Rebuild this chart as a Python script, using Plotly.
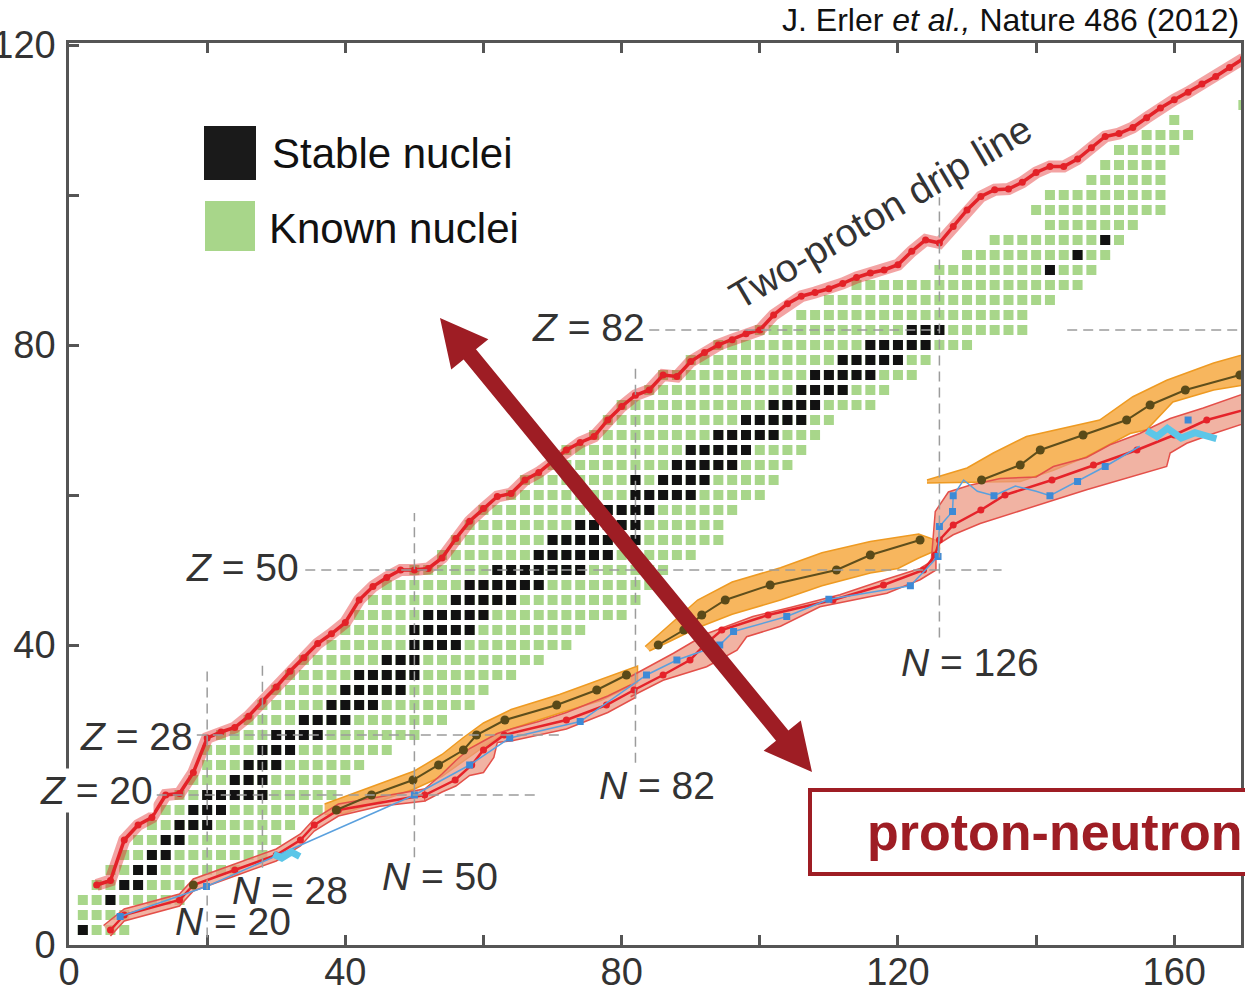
import plotly.graph_objects as go
import numpy as np

# ---------------- data ----------------
# Known even-even nuclei: for each even Z, first and last even N
known_Z    = [2, 4, 6, 8, 10, 12, 14, 16, 18, 20, 22, 24, 26, 28, 30, 32, 34, 36, 38, 40, 42, 44, 46, 48, 50,
              52, 54, 56, 58, 60, 62, 64, 66, 68, 70, 72, 74, 76, 78, 80, 82, 84, 86, 88, 90, 92, 94, 96, 98,
              100, 102, 104, 106, 108, 110, 112]
known_Nmin = [2, 2, 2, 4, 6, 8, 10, 12, 14, 16, 18, 20, 20, 22, 26, 28, 30, 32, 34, 38, 40, 42, 44, 46, 50,
              54, 56, 58, 60, 64, 66, 70, 72, 76, 78, 80, 84, 86, 90, 94, 100, 106, 110, 114, 126, 130, 134, 142, 140,
              142, 148, 150, 152, 156, 160, 170]
known_Nmax = [8, 8, 16, 16, 24, 28, 30, 32, 36, 38, 40, 42, 46, 50, 54, 58, 60, 64, 68, 72, 74, 80, 82, 84, 86,
              90, 94, 94, 96, 100, 102, 104, 106, 108, 110, 116, 118, 122, 124, 130, 138, 138, 142, 146, 148, 150, 152, 154, 158,
              158, 158, 158, 160, 162, 160, 170]

# Stable even-even nuclei (rows of Z with their N values)
stable_Z_rows = [2, 6, 8, 10, 12, 14, 16, 18, 20, 22, 24, 26, 28, 30, 32, 34, 36, 38, 40, 42, 44, 46, 48, 50,
                 52, 54, 56, 58, 60, 62, 64, 66, 68, 70, 72, 74, 76, 78, 80, 82, 90, 92, 94]
stable_N_rows = [[2], [6], [8, 10], [10, 12], [12, 14], [14, 16], [16, 18, 20], [18, 20, 22],
                 [20, 22, 24, 26, 28], [24, 26, 28], [26, 28, 30], [28, 30, 32], [30, 32, 34, 36],
                 [34, 36, 38, 40], [38, 40, 42, 44], [40, 42, 44, 46, 48], [42, 44, 46, 48, 50], [46, 48, 50],
                 [50, 52, 54, 56], [50, 52, 54, 56, 58], [52, 54, 56, 58, 60], [56, 58, 60, 62, 64],
                 [58, 60, 62, 64, 66, 68], [62, 64, 66, 68, 70, 72, 74], [68, 70, 72, 74, 76, 78],
                 [70, 72, 74, 76, 78, 80, 82], [74, 76, 78, 80, 82], [78, 80, 82, 84], [82, 84, 86, 88, 90],
                 [82, 86, 88, 90, 92], [88, 90, 92, 94, 96], [90, 92, 94, 96, 98], [94, 96, 98, 100, 102],
                 [98, 100, 102, 104, 106], [102, 104, 106, 108], [106, 108, 110, 112], [108, 110, 112, 114, 116],
                 [112, 114, 116, 118, 120], [116, 118, 120, 122, 124], [122, 124, 126], [142], [146], [150]]

# Two-proton drip line
drip2p_N = [4, 6, 8, 10, 12, 14, 16, 18, 20, 22, 24, 26, 28, 30, 32, 34, 36, 38, 40, 42, 44, 46, 48, 50, 52, 54,
            56, 58, 60, 62, 64, 66, 68, 70, 72, 74, 76, 78, 80, 82, 84, 86, 88, 90, 92, 94, 96, 98, 100, 102, 104,
            106, 108, 110, 112, 114, 116, 118, 120, 122, 124, 126, 128, 130, 132, 134, 136, 138, 140, 142, 144,
            146, 148, 150, 152, 154, 156, 158, 160, 162, 164, 166, 168, 170]
drip2p_Z = [8, 8.6, 14, 16, 17, 20, 20.2, 23, 27.6, 28.4, 29, 30.5, 32.5, 34.4, 36.5, 38.3, 40.2, 41.5, 43, 46,
            47.8, 49, 50, 50, 50.2, 51.6, 54.2, 56.5, 58.2, 59.8, 60.2, 62, 63, 64.5, 66, 67, 67.8, 70, 71.8, 73.3,
            74, 76, 75.8, 77.8, 79, 80, 80.7, 81.5, 82, 84, 85.5, 86.5, 87, 87.5, 88.2, 89, 89.6, 90, 90.7, 92.5,
            94, 93.6, 95.8, 98, 99.8, 100.7, 100.8, 101.7, 103, 103.8, 103.8, 104.8, 106.3, 107.8, 108.2, 109,
            110.3, 111.6, 112.7, 113.7, 114.8, 115.8, 117, 118.2]

# Two-neutron drip line (mean, red)
drip2n_N = [6, 8, 16, 18, 24, 30, 33.5, 35.5, 39, 51.5, 55.9, 58.3, 60, 63, 72, 77.8, 81.8, 86, 89.9, 92, 94.5,
            101.2, 110.6, 117.9, 123.7, 125.4, 126, 128, 132, 135.5, 142.3, 148.3, 154.6, 160, 164.7, 172.8]
drip2n_Z = [2, 4, 6, 8, 10, 12, 14, 16, 18, 20, 22, 24, 26, 28, 30, 32, 34, 36, 38, 40, 42, 44, 46, 48, 50, 52,
            54, 56, 58, 60, 62, 64, 66, 68, 70, 72]

# Uncertainty band of the two-neutron drip line (salmon), upper / lower edges
salmon1_up_N = [5, 8, 16, 18, 24, 30, 33.5, 35.5, 39, 45, 51.5]
salmon1_up_Z = [2.6, 4.8, 6.8, 8.8, 10.8, 12.8, 14.8, 16.8, 18.8, 19.8, 20.8]
salmon1_lo_N = [51.5, 45, 39, 35.5, 33.5, 30, 24, 18, 16, 8, 6]
salmon1_lo_Z = [19.2, 18.5, 17.2, 15.2, 13.2, 11.2, 9.2, 7.2, 5.2, 3.2, 1.2]
salmon2_up_N = [51.5, 54, 56, 58, 60, 62, 64, 68, 72, 78, 82]
salmon2_up_Z = [20.8, 22.8, 24.6, 26.2, 27.2, 28.2, 28.8, 29.8, 31, 33.2, 35]
salmon2_lo_N = [82, 78, 72, 64, 62, 61.5, 60, 58, 56, 54, 51.5]
salmon2_lo_Z = [33, 31, 28.8, 27.2, 27, 25, 23, 22.6, 21.2, 20.4, 19.2]
salmon3_up_N = [81.3, 87.5, 92.3, 99, 104.4, 111.6, 118.4, 123.2, 125.5]
salmon3_up_Z = [35.8, 38.9, 41.5, 43.8, 45, 46.7, 48.8, 50.2, 51.5]
salmon3_lo_N = [125.5, 123.2, 118.4, 108.7, 103, 98.1, 96.7, 92.3, 86, 81.3]
salmon3_lo_Z = [50, 48.7, 46.9, 45.1, 42.5, 41.1, 39.3, 37.1, 35.3, 33.1]
salmon4_up_N = [124.8, 125.4, 127.3, 130.4, 134.8, 140, 142.5, 147.3, 150.7, 155, 156.9, 159.4, 164.2, 171]
salmon4_up_Z = [51, 57.8, 60.4, 61.3, 62.2, 62.4, 63.8, 65, 66.7, 68.2, 69.1, 70.2, 71.6, 73.8]
salmon4_lo_N = [171, 165.7, 161.8, 159.4, 158.9, 152.1, 147.3, 142.5, 135.7, 131.9, 128, 126.1, 125.1, 124.8]
salmon4_lo_Z = [69.8, 68.2, 66.9, 65.6, 63.8, 62, 60.7, 59.3, 57.3, 56.2, 54.7, 53.6, 51.8, 51]

# Second model set (olive line with orange band), three pieces
olive_A_N = [38.7, 43.8, 49.8, 53.5, 57.1, 59, 63.1, 70.6, 76.4, 80.7]
olive_A_Z = [18, 20, 22, 24, 26, 28, 30, 32, 34, 36]
olive_B_N = [85.3, 89, 91.6, 95, 101.5, 111.1, 116, 123.2]
olive_B_Z = [40, 42, 44, 46, 48, 50, 52, 54]
olive_C_N = [132.1, 137.7, 140.6, 146.8, 153.1, 156.5, 161.6, 169.5]
olive_C_Z = [62, 64, 66, 68, 70, 72, 74, 76]
olive_single_N = [18]
olive_single_Z = [8]

orangeA_up_N = [37, 40, 44, 50, 54, 57, 60, 64, 71, 77, 82.3]
orangeA_up_Z = [18.8, 19.8, 21.2, 23.2, 25.4, 27.6, 29.6, 31.4, 33.4, 35.4, 37.2]
orangeA_lo_N = [82.3, 77, 71, 64, 60, 57, 54, 50, 44, 40, 37]
orangeA_lo_Z = [35, 32.6, 30.9, 28.8, 26.4, 24.5, 22.5, 20.8, 18.9, 17.6, 17.4]
orangeB_up_N = [83.4, 87.5, 91, 96, 103, 109, 116, 123, 126]
orangeB_up_Z = [39.8, 43.2, 46, 48.4, 50.3, 52.3, 53.8, 54.8, 53.8]
orangeB_lo_N = [126, 123, 120, 116, 109, 103, 96, 91, 87, 84]
orangeB_lo_Z = [52.8, 51.6, 50.2, 49.6, 47.9, 46, 44.1, 42.3, 40.5, 39.2]
orangeC_up_N = [124.2, 130, 133.8, 138.6, 149.2, 154, 158.9, 165.7, 171]
orangeC_up_Z = [62, 63.6, 65.6, 67.8, 70, 73.1, 75.3, 77.6, 79]
orangeC_lo_N = [171, 165.7, 159.8, 156, 153.6, 147.3, 142.5, 137.7, 124.2]
orangeC_lo_Z = [74.8, 74, 72.4, 68.7, 68.2, 65.1, 63.3, 61.8, 61.6]

# Third model (thin blue line with square markers)
blue_line_N = [7.4, 19.9, 50, 58, 63.8, 74, 83.6, 88, 94.2, 96.2, 103.9, 110, 121.8, 125.8, 126, 127.9, 128,
               129.5, 131.5, 133.9, 137, 140, 142, 146, 150, 155]
blue_line_Z = [3.8, 7.8, 20, 24, 27.6, 29.8, 36, 38, 40, 41.8, 43.8, 46.1, 47.9, 51.8, 55.8, 57.8, 59.9,
               62, 60.5, 59.9, 61.2, 60.5, 59.9, 61.8, 63.8, 66.5]
blue_pts_N = [7.4, 19.9, 50, 58, 63.8, 74, 83.6, 88, 94.2, 96.2, 103.9, 110, 121.8, 125.8, 126, 127.9, 128,
              133.9, 142, 146, 150, 162]
blue_pts_Z = [3.8, 7.8, 20, 24, 27.6, 29.8, 36, 38, 40, 41.8, 43.8, 46.1, 47.9, 51.8, 55.8, 57.8, 59.9,
              59.9, 59.9, 61.8, 63.8, 70]

# Light-blue (cyan) segments
cyan1_N = [29.6, 30.8, 32.2, 33.4]
cyan1_Z = [12.1, 11.6, 12.4, 11.8]
cyan2_N = [156, 157.5, 159, 161, 163, 166.1]
cyan2_Z = [68.6, 67.8, 68.9, 67.6, 68.3, 67.5]

# Magic-number guide lines
magic_h_Z  = [82, 82, 50, 28, 20]
magic_h_N0 = [84, 144.5, 34.2, 18.5, 12.7]
magic_h_N1 = [126, 170, 135, 71.6, 67.7]
magic_v_N  = [126, 82, 50, 28, 20]
magic_v_Z0 = [41, 24.3, 11.7, 10.3, 1]
magic_v_Z1 = [99.7, 77, 57.6, 38, 37]

x_ticks = [0, 20, 40, 60, 80, 100, 120, 140, 160]
x_tick_text = ['0', '', '40', '', '80', '', '120', '', '160']
y_ticks = [0, 20, 40, 60, 80, 100, 120]
y_tick_text = ['0', '', '40', '', '80', '', '120']

# ---------------- figure ----------------
W, H = 1245, 991
ML, MR, MT, MB = 69, 4, 43, 46
PW, PH = W - ML - MR, H - MT - MB
FONT = "Liberation Sans, Arial, Helvetica, sans-serif"
DARKRED = "#9E1D24"


def P(x, y):
    """pixel -> paper coordinates"""
    return (x - ML) / PW, (H - MB - y) / PH


fig = go.Figure()

# known nuclei grid
gN, gZ = [], []
for z, a, b in zip(known_Z, known_Nmin, known_Nmax):
    for n in range(a, b + 1, 2):
        gN.append(n)
        gZ.append(z)
fig.add_trace(go.Scatter(x=gN, y=gZ, mode="markers",
                         marker=dict(symbol="square", size=10, color="#A8D68A", line=dict(width=0)),
                         hoverinfo="skip"))
sN, sZ = [], []
for z, row in zip(stable_Z_rows, stable_N_rows):
    for n in row:
        sN.append(n)
        sZ.append(z)
fig.add_trace(go.Scatter(x=sN, y=sZ, mode="markers",
                         marker=dict(symbol="square", size=10, color="#121212", line=dict(width=0)),
                         hoverinfo="skip"))

# two-proton drip line
fig.add_trace(go.Scatter(x=drip2p_N, y=drip2p_Z, mode="lines",
                         line=dict(color="rgba(226,36,36,0.42)", width=12), hoverinfo="skip"))
fig.add_trace(go.Scatter(x=drip2p_N, y=drip2p_Z, mode="lines+markers",
                         line=dict(color="#E32228", width=3.5),
                         marker=dict(size=7, color="#E32228"), hoverinfo="skip"))


def band(upN, upZ, loN, loZ, fill, edge):
    fig.add_trace(go.Scatter(x=list(upN) + list(loN), y=list(upZ) + list(loZ), mode="lines",
                             fill="toself", fillcolor=fill, line=dict(color=edge, width=1.5),
                             hoverinfo="skip"))


ORANGE_FILL, ORANGE_EDGE = "rgba(246,172,72,0.88)", "#EE9A22"
band(orangeA_up_N, orangeA_up_Z, orangeA_lo_N, orangeA_lo_Z, ORANGE_FILL, ORANGE_EDGE)
band(orangeB_up_N, orangeB_up_Z, orangeB_lo_N, orangeB_lo_Z, ORANGE_FILL, ORANGE_EDGE)
band(orangeC_up_N, orangeC_up_Z, orangeC_lo_N, orangeC_lo_Z, ORANGE_FILL, ORANGE_EDGE)

SALMON_FILL, SALMON_EDGE = "rgba(236,150,128,0.72)", "#E4504A"
band(salmon1_up_N, salmon1_up_Z, salmon1_lo_N, salmon1_lo_Z, SALMON_FILL, SALMON_EDGE)
band(salmon2_up_N, salmon2_up_Z, salmon2_lo_N, salmon2_lo_Z, SALMON_FILL, SALMON_EDGE)
band(salmon3_up_N, salmon3_up_Z, salmon3_lo_N, salmon3_lo_Z, SALMON_FILL, SALMON_EDGE)
band(salmon4_up_N, salmon4_up_Z, salmon4_lo_N, salmon4_lo_Z, SALMON_FILL, SALMON_EDGE)

# red mean two-neutron drip line
fig.add_trace(go.Scatter(x=drip2n_N, y=drip2n_Z, mode="lines+markers",
                         line=dict(color="#E5232A", width=2.5),
                         marker=dict(size=7, color="#E5232A"), hoverinfo="skip"))
# blue model
fig.add_trace(go.Scatter(x=blue_line_N, y=blue_line_Z, mode="lines",
                         line=dict(color="#5AA0DE", width=1.5), hoverinfo="skip"))
fig.add_trace(go.Scatter(x=blue_pts_N, y=blue_pts_Z, mode="markers",
                         marker=dict(symbol="square", size=7, color="#3D8AD6"), hoverinfo="skip"))
# cyan segments
for cx, cy in [(cyan1_N, cyan1_Z), (cyan2_N, cyan2_Z)]:
    fig.add_trace(go.Scatter(x=cx, y=cy, mode="lines", line=dict(color="#5CC6E8", width=7),
                             hoverinfo="skip"))
# olive lines
for ox, oy in [(olive_A_N, olive_A_Z), (olive_B_N, olive_B_Z), (olive_C_N, olive_C_Z)]:
    fig.add_trace(go.Scatter(x=ox, y=oy, mode="lines+markers", line=dict(color="#5E4E1C", width=2),
                             marker=dict(size=9, color="#5A4A18"), hoverinfo="skip"))
fig.add_trace(go.Scatter(x=olive_single_N, y=olive_single_Z, mode="markers",
                         marker=dict(size=9, color="#5A4A18"), hoverinfo="skip"))

shapes = []
# magic number guides
for z, n0, n1 in zip(magic_h_Z, magic_h_N0, magic_h_N1):
    shapes.append(dict(type="line", xref="x", yref="y", x0=n0, x1=n1, y0=z, y1=z,
                       line=dict(color="#9C9C9C", width=1.5, dash="10px,6px"), layer="above"))
for n, z0, z1 in zip(magic_v_N, magic_v_Z0, magic_v_Z1):
    shapes.append(dict(type="line", xref="x", yref="y", x0=n, x1=n, y0=z0, y1=z1,
                       line=dict(color="#9C9C9C", width=1.5, dash="10px,6px"), layer="above"))

# legend swatches
for (x0, y0, x1, y1, c) in [(204, 126, 256, 180, "#1A1A1A"), (205, 201, 255, 251, "#A8D68A")]:
    a0, b0 = P(x0, y1)
    a1, b1 = P(x1, y0)
    shapes.append(dict(type="rect", xref="paper", yref="paper", x0=a0, x1=a1, y0=b0, y1=b1,
                       fillcolor=c, line=dict(width=0), layer="above"))

# double-headed arrow (decoration)
A = np.array([440.0, 318.0])
B = np.array([812.0, 772.0])
u = (B - A) / np.linalg.norm(B - A)
p = np.array([-u[1], u[0]])
hl, hw, sw = 47, 24, 8
pts = [A, A + u * hl + p * hw, A + u * hl + p * sw, B - u * hl + p * sw, B - u * hl + p * hw, B,
       B - u * hl - p * hw, B - u * hl - p * sw, A + u * hl - p * sw, A + u * hl - p * hw]
path = "M " + " L ".join("%.5f,%.5f" % P(*q) for q in pts) + " Z"
shapes.append(dict(type="path", xref="paper", yref="paper", path=path, fillcolor=DARKRED,
                   line=dict(width=0), layer="above"))

# proton-neutron box
a0, b0 = P(810, 874)
a1, b1 = P(1265, 790)
shapes.append(dict(type="rect", xref="paper", yref="paper", x0=a0, x1=a1, y0=b0, y1=b1,
                   fillcolor="white", line=dict(color=DARKRED, width=4), layer="above"))

ann = []


def text(x, y, s, size, color="#333333", xanchor="center", yanchor="middle", angle=0, bg=None):
    a, b = P(x, y)
    d = dict(xref="paper", yref="paper", x=a, y=b, text=s, showarrow=False,
             xanchor=xanchor, yanchor=yanchor, textangle=angle,
             font=dict(family=FONT, size=size, color=color))
    if bg:
        d["bgcolor"] = bg
        d["borderpad"] = 0
    ann.append(d)


text(270, 153, "Stable nuclei", 42, "#111111", xanchor="left")
text(267, 229, "Known nuclei", 42, "#111111", xanchor="left")
text(1241, 20, "J. Erler <i>et al.,</i> Nature 486 (2012)", 32, "#111111", xanchor="right")
text(588, 328, "<i>Z</i> = 82", 39)
text(242, 567, "<i>Z</i> = 50", 39)
text(136, 736, "<i>Z</i> = 28", 39)
text(96, 790, "<i>Z</i> = 20", 39, bg="white")
text(233, 921, "<i>N</i> = 20", 39)
text(290, 890, "<i>N</i> = 28", 39)
text(440, 876, "<i>N</i> = 50", 39)
text(657, 785, "<i>N</i> = 82", 39)
text(970, 662, "<i>N</i> = 126", 39)
text(880, 212, "Two-proton drip line", 39, angle=-30.5)
text(865, 832, "<b>proton-neutron</b>", 52, DARKRED, xanchor="left")

axis_common = dict(showline=True, linecolor="#555555", linewidth=2.5, ticks="inside", ticklen=10,
                   tickwidth=2.5, tickcolor="#555555", showgrid=False, zeroline=False, automargin=False,
                   tickfont=dict(family=FONT, size=38, color="#333333"))

fig.update_layout(
    width=W, height=H,
    margin=dict(l=ML, r=MR, t=MT, b=MB, pad=0),
    paper_bgcolor="white", plot_bgcolor="white",
    showlegend=False,
    xaxis=dict(range=[0, PW / 6.908], tickvals=x_ticks, ticktext=x_tick_text, mirror="ticks",
               ticklabelstandoff=-8, **axis_common),
    yaxis=dict(range=[0, PH / 7.5], tickvals=y_ticks, ticktext=y_tick_text, mirror=True,
               ticklabelstandoff=3, **axis_common),
    shapes=shapes,
    annotations=ann,
)

fig.write_html("out.html")
